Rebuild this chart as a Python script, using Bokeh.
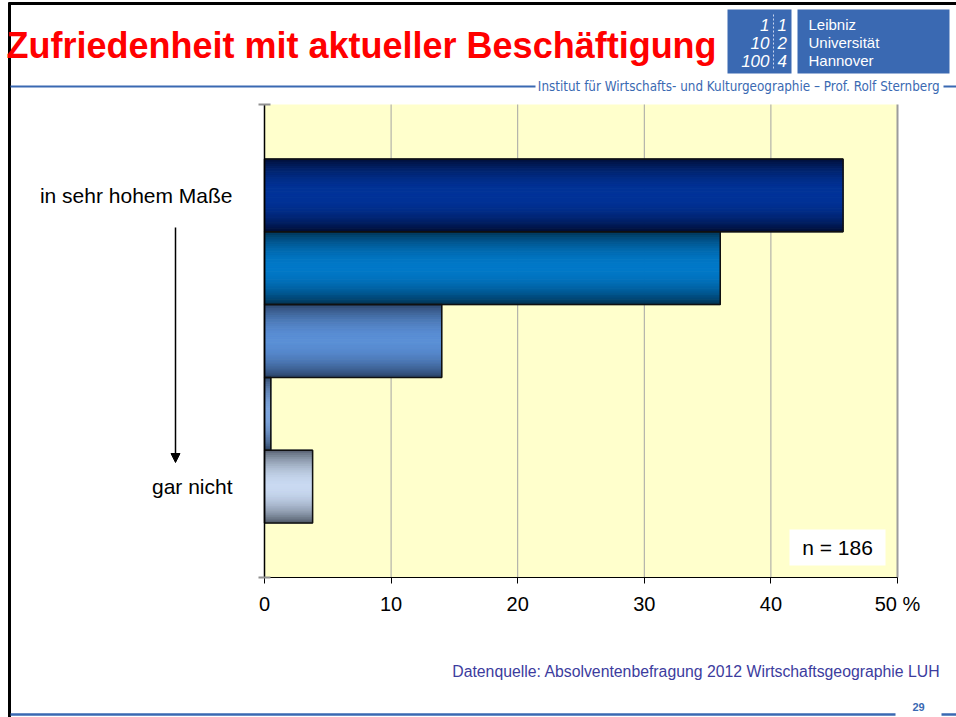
import math
from bokeh.plotting import figure
from bokeh.models import (FixedTicker, Label, BoxAnnotation, Arrow, NormalHead,
                          Range1d, ColumnDataSource)
from bokeh.embed import file_html
from bokeh.resources import INLINE

# ---------------- data ----------------
categories = ["in sehr hohem Maße", "2", "3", "4", "gar nicht"]
category_labels = ["in sehr hohem Maße", "", "", "", "gar nicht"]
values = [45.7, 36.0, 14.0, 0.5, 3.8]
x_ticks = [0, 10, 20, 30, 40, 50]
x_tick_labels = ["0", "10", "20", "30", "40", "50 %"]
n_respondents = 186
title_text = "Zufriedenheit mit aktueller Beschäftigung"
institute_text = "Institut für Wirtschafts- und Kulturgeographie – Prof. Rolf Sternberg"
logo_words = ["Leibniz", "Universität", "Hannover"]
logo_left = ["1", "10", "100"]
logo_right = ["1", "2", "4"]
source_text = "Datenquelle: Absolventenbefragung 2012 Wirtschaftsgeographie LUH"
page_number = "29"

# ---------------- styles ----------------
bar_mid = ["#003399", "#0078C8", "#5A8FD6", "#7EA6DE", "#C9D9F1"]
bar_edge = ["#000C30", "#002E4C", "#283F62", "#2C4262", "#4C5563"]
BLUE = "#3A69B2"
FONT = "Liberation Sans"

W, H = 956, 717
FL, FT, FR, FB = 264, 104, 897, 577      # plot-area edges in page pixels
PAD = 0.75
n = len(values)
YMAX = n + 2 * PAD
XMAX = 50


def X(ix):
    return (ix - FL) * XMAX / (FR - FL)


def Y(iy):
    return (FB - iy) * YMAX / (FB - FT)


def mix(c1, c2, t):
    a = [int(c1[i:i + 2], 16) for i in (1, 3, 5)]
    b = [int(c2[i:i + 2], 16) for i in (1, 3, 5)]
    return "#%02x%02x%02x" % tuple(int(round(a[j] + (b[j] - a[j]) * t)) for j in range(3))


p = figure(width=W, height=H, output_backend="svg", toolbar_location=None,
           x_range=Range1d(X(0), X(W)), y_range=Range1d(Y(H), Y(0)), min_border=0)
p.background_fill_color = "white"
p.border_fill_color = "white"
p.outline_line_color = None
p.xgrid.visible = False
p.ygrid.visible = False

ypos = [PAD + (n - 1 - i) + 0.5 for i in range(n)]

# plot area background
p.add_layout(BoxAnnotation(left=0, right=XMAX, bottom=0, top=YMAX, fill_color="#FFFFCC",
                           fill_alpha=1, line_color=None, level="underlay"))
# vertical grid lines
grid_x = x_ticks[1:-1]
p.segment(x0=grid_x, x1=grid_x, y0=0, y1=YMAX, line_color="#A4A4A4", line_width=1)
p.segment(x0=[XMAX], x1=[XMAX], y0=0, y1=YMAX, line_color="#9C9C9C", line_width=2)

# bars with cylinder-like gradient
NS = 40
sy, sh, sr, sc = [], [], [], []
for i, v in enumerate(values):
    for k in range(NS):
        f = (k + 0.5) / NS
        t = math.sin(math.pi * f) ** 0.75
        sy.append(ypos[i] + 0.5 - f)
        sh.append(1.0 / NS)
        sr.append(v)
        sc.append(mix(bar_edge[i], bar_mid[i], t))
strips = ColumnDataSource(dict(y=sy, h=sh, right=sr, color=sc))
p.hbar(y="y", height="h", left=0, right="right", fill_color="color",
       line_color="color", line_width=1, source=strips)
p.hbar(y=ypos, height=1, left=0, right=values, fill_color=None,
       line_color="#101010", line_width=1.5)

# axes, placed at the data origin
xa = p.xaxis[0]
xa.fixed_location = 0
xa.bounds = (0, XMAX)
xa.ticker = FixedTicker(ticks=x_ticks, minor_ticks=[])
xa.major_label_overrides = {t: l for t, l in zip(x_ticks, x_tick_labels)}
xa.axis_line_color = "black"
xa.axis_line_width = 1.2
xa.major_tick_line_color = "black"
xa.major_tick_out = 6
xa.major_tick_in = 0
xa.major_label_standoff = 9
xa.major_label_text_font = FONT
xa.major_label_text_font_size = "20px"
xa.major_label_text_color = "black"

ya = p.yaxis[0]
ya.fixed_location = 0
ya.bounds = (0, YMAX)
ya.ticker = FixedTicker(ticks=ypos, minor_ticks=[0, YMAX])
ya.major_label_overrides = {t: l for t, l in zip(ypos, category_labels)}
ya.axis_line_color = "black"
ya.axis_line_width = 1.5
ya.major_tick_out = 0
ya.major_tick_in = 0
ya.minor_tick_line_color = "#909090"
ya.minor_tick_line_width = 2
ya.minor_tick_in = 6
ya.minor_tick_out = 6
ya.major_label_standoff = 26
ya.major_label_text_font = FONT
ya.major_label_text_font_size = "21px"
ya.major_label_text_color = "black"

# arrow from "in sehr hohem Maße" to "gar nicht"
p.add_layout(Arrow(x_start=X(175), y_start=Y(227), x_end=X(175), y_end=Y(462),
                   line_color="black", line_width=1.5,
                   end=NormalHead(size=9, fill_color="black", line_color="black")))

# n box
p.add_layout(BoxAnnotation(left=X(789), right=X(885), top=Y(529), bottom=Y(565),
                           fill_color="white", fill_alpha=1, line_color=None))
p.add_layout(Label(x=X(837), y=Y(547), text=f"n = {n_respondents}", text_align="center",
                   text_baseline="middle", text_font=FONT, text_font_size="21px",
                   text_color="black"))


def hline(x0, x1, y, color, w):
    p.add_layout(Arrow(x_start=X(x0), y_start=Y(y), x_end=X(x1), y_end=Y(y), end=None,
                       line_color=color, line_width=w))


# slide borders
p.add_layout(Arrow(x_start=X(9), y_start=Y(2), x_end=X(9), y_end=Y(717), end=None,
                   line_color="black", line_width=3))
hline(8, 956, 3, "black", 3)

# header
p.add_layout(Label(x=X(6), y=Y(45), text=title_text, text_font=FONT, text_font_style="bold",
                   text_font_size="36px", text_color="#FF0000", text_baseline="alphabetic"))
p.add_layout(BoxAnnotation(left=X(727), right=X(791), top=Y(9), bottom=Y(73),
                           fill_color=BLUE, fill_alpha=1, line_color=None))
p.add_layout(BoxAnnotation(left=X(797), right=X(949), top=Y(9), bottom=Y(73),
                           fill_color=BLUE, fill_alpha=1, line_color=None))
p.add_layout(Arrow(x_start=X(773), y_start=Y(14), x_end=X(773), y_end=Y(69), end=None,
                   line_color="#C9D6EE", line_width=1, line_dash="2 2"))
for j, (lw, ll, lr) in enumerate(zip(logo_words, logo_left, logo_right)):
    yy = Y(24 + 18 * j)
    p.add_layout(Label(x=X(808), y=yy, text=lw, text_font=FONT, text_font_size="15px",
                       text_color="white", text_baseline="middle"))
    p.add_layout(Label(x=X(769), y=yy, text=ll, text_font=FONT, text_font_size="17px",
                       text_font_style="italic", text_color="white", text_baseline="middle",
                       text_align="right"))
    p.add_layout(Label(x=X(777), y=yy, text=lr, text_font=FONT, text_font_size="17px",
                       text_font_style="italic", text_color="white", text_baseline="middle"))

hline(10, 535, 86, BLUE, 2)
p.add_layout(Label(x=X(939), y=Y(86), text=institute_text,
                   text_font="Liberation Sans Narrow, DejaVu Sans Condensed, sans-serif",
                   text_font_size="13.35px", text_color=BLUE, text_baseline="middle",
                   text_align="right"))
hline(943, 956, 86, BLUE, 2)

# footer
p.add_layout(Label(x=X(940), y=Y(671), text=source_text, text_font=FONT,
                   text_font_size="15.8px", text_color="#3C3C9E", text_baseline="middle",
                   text_align="right"))
hline(10, 895, 714, BLUE, 2.5)
p.add_layout(Label(x=X(918), y=Y(706), text=page_number, text_font=FONT,
                   text_font_size="11px", text_font_style="bold", text_color=BLUE,
                   text_baseline="middle", text_align="center"))
hline(941, 956, 714, BLUE, 2.5)

open("out.html", "w").write(file_html(p, INLINE))
